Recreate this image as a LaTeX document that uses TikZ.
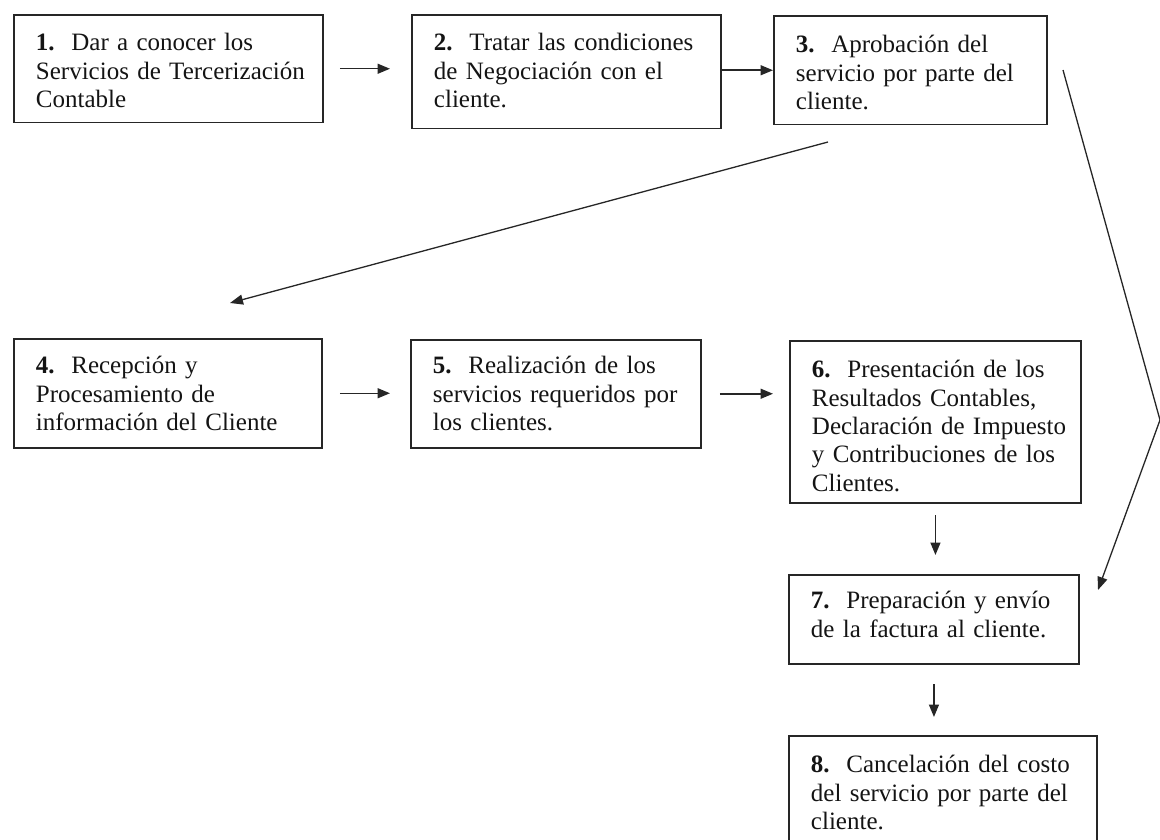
\documentclass[tikz,border=0pt]{standalone}
\usepackage{fontspec}
\setmainfont{Liberation Serif}
\usetikzlibrary{arrows.meta}
\newcommand\topstr[1]{\rule{0pt}{#1pt}}
\newcommand\botstr[1]{\rule[-#1pt]{0pt}{0pt}}
\newcommand\bxl[1]{\mbox{#1}}
\begin{document}
\begin{tikzpicture}[x=1pt,y=-1pt,
  box/.style={draw=black!85, line width=1.9pt, anchor=north west, inner xsep=22pt, inner ysep=0pt,
    align=left, font=\fontsize{25}{28.3}\selectfont, text=black!92},
  arr/.style={draw=black!85, line width=1.5pt, -{Triangle[length=12.5pt,width=10pt]}},
  thinarr/.style={draw=black!85, line width=1.3pt, -{Triangle[length=13pt,width=10pt]}},
]
\useasboundingbox (0,0) rectangle (1160,840);
\clip (0,0) rectangle (1160,840);

\node[box, text width=265pt] (b1) at (13,14)
  {\topstr{36}\bxl{\textbf{1.}\ \ Dar a conocer los}\\\bxl{Servicios de Tercerización}\\\bxl{Contable}\botstr{15}};
\node[box, text width=265pt] (b2) at (411,14)
  {\topstr{36}\bxl{\textbf{2.}\ \ Tratar las condiciones}\\\bxl{de Negociación con el}\\\bxl{cliente.}\botstr{21}};
\node[box, text width=229pt] (b3) at (773,15)
  {\topstr{37}\bxl{\textbf{3.}\ \ Aprobación del}\\\bxl{servicio por parte del}\\\bxl{cliente.}\botstr{15}};

\node[box, text width=264pt] (b4) at (13,338)
  {\topstr{35}\bxl{\textbf{4.}\ \ Recepción y}\\\bxl{Procesamiento de}\\\bxl{información del Cliente}\botstr{17}};
\node[box, text width=246pt] (b5) at (410,339)
  {\topstr{34}\bxl{\textbf{5.}\ \ Realización de los}\\\bxl{servicios requeridos por}\\\bxl{los clientes.}\botstr{17}};
\node[box, text width=247pt] (b6) at (789,340)
  {\topstr{37}\bxl{\textbf{6.}\ \ Presentación de los}\\\bxl{Resultados Contables,}\\\bxl{Declaración de Impuesto}\\\bxl{y Contribuciones de los}\\\bxl{Clientes.}\botstr{12}};

\node[box, text width=246pt] (b7) at (788,574)
  {\topstr{34}\bxl{\textbf{7.}\ \ Preparación y envío}\\\bxl{de la factura al cliente.}\botstr{27}};
\node[box, text width=264pt] (b8) at (788,735)
  {\topstr{37}\bxl{\textbf{8.}\ \ Cancelación del costo}\\\bxl{del servicio por parte del}\\\bxl{cliente.}\botstr{20}};

% horizontal arrows
\draw[arr, shorten <=16pt, shorten >=21pt] (b1.east) -- (b1.east -| b2.west);
\draw[arr] (b3.west -| b2.east) -- (b3.west);
\draw[arr, shorten <=17pt, shorten >=20pt] (b4.east) -- (b4.east -| b5.west);
\draw[arr, shorten <=18pt, shorten >=16pt] (b5.east) -- (b5.east -| b6.west);
% vertical arrows
\draw[arr, shorten <=11pt, shorten >=19pt] (b6.south) -- (b6.south |- b7.north);
\draw[arr, shorten <=19pt, shorten >=18pt] (b7.south) -- (b7.south |- b8.north);

% diagonal arrow from 3 to 4
\coordinate (s34) at (828,142);
\coordinate (e34) at (230,303);
\draw[thinarr] (s34) -- (e34);

% long arrow from 3 to 7
\coordinate (l1) at (1063,70);
\coordinate (l2) at (1160,420);
\coordinate (l3) at (1098,590);
\draw[thinarr] (l1) -- (l2) -- (l3);
\end{tikzpicture}
\end{document}
